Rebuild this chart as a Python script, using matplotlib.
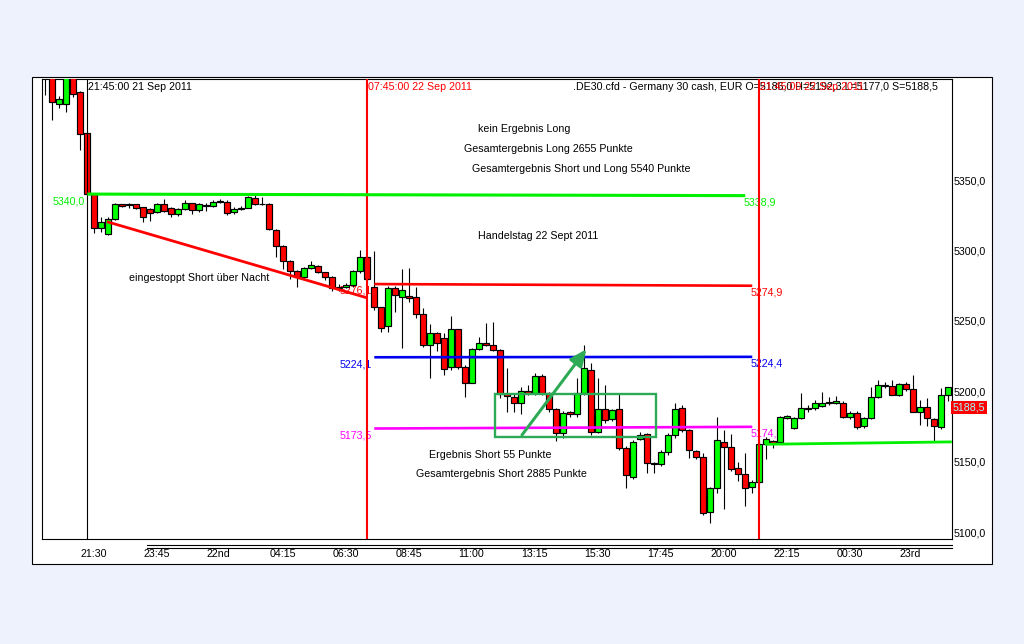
import matplotlib
matplotlib.use('Agg')
import matplotlib.pyplot as plt
from matplotlib.patches import Rectangle, FancyArrowPatch
from matplotlib.lines import Line2D
import matplotlib.transforms as mtransforms
import numpy as np

plt.rcParams['font.family'] = ['Liberation Sans', 'DejaVu Sans']
FS = 7.7

# ---------------- data (15-minute candles, index 0 = 20:15 21 Sep 2011) ----------------
opens = [5435, 5430, 5403.7, 5403.7, 5424, 5412.2, 5383.1, 5339.8, 5315.7, 5311.4,
         5322.1, 5332.7, 5332.5, 5332.7, 5330.6, 5329.4, 5327.0, 5332.7, 5329.9, 5325.6,
         5329.2, 5333.4, 5328.5, 5332.2, 5331.5, 5334.6, 5334.1, 5327.5, 5329.4, 5330.3,
         5337.0, 5332.9, 5332.9, 5314.5, 5303.1, 5292.5, 5285.4, 5280.9, 5287.3, 5288.9,
         5284.4, 5280.9, 5273.5, 5274.2, 5275.4, 5285.4, 5295.6, 5274.2, 5259.5, 5246.3,
         5273.5, 5267.1, 5267.8, 5266.6, 5254.6, 5232.8, 5241.1, 5238.0, 5217.0, 5243.9,
         5216.9, 5206.0, 5229.7, 5234.5, 5232.8, 5229.0, 5198.0, 5196.1, 5191.8, 5200.2,
         5198.6, 5211.0, 5198.5, 5187.3, 5170.1, 5185.0, 5183.8, 5198.5, 5215.0, 5171.2,
         5187.3, 5180.2, 5187.3, 5159.9, 5139.3, 5166.0, 5169.4, 5149.2, 5148.3, 5156.6,
         5168.9, 5187.8, 5172.2, 5157.5, 5153.5, 5114.4, 5131.0, 5163.7, 5160.6, 5145.2,
         5141.0, 5131.7, 5135.3, 5162.3, 5164.3, 5163.7, 5180.7, 5173.6, 5180.7, 5187.5,
         5187.8, 5189.5, 5192.6, 5191.4, 5191.9, 5181.4, 5184.7, 5175.5, 5180.7, 5195.6,
         5203.7, 5203.7, 5197.3, 5204.9, 5201.3, 5185.5, 5189.0, 5180.0, 5174.3, 5197.3]
highs = [5440, 5432, 5410, 5428, 5426, 5413, 5384, 5340, 5324, 5324,
         5333.5, 5333.3, 5333.5, 5333.3, 5331, 5330, 5333.5, 5336.5, 5330.5, 5330,
         5335.5, 5334, 5333.5, 5333.5, 5335.8, 5336.5, 5336, 5331, 5331.5, 5338.5,
         5339.5, 5338, 5333.5, 5315, 5304, 5293, 5286, 5288, 5292.5, 5289.5,
         5285, 5281.5, 5276, 5277, 5286, 5300.3, 5296, 5299.6, 5260, 5275,
         5275, 5286.8, 5287.2, 5274.2, 5258.8, 5247.5, 5242, 5241, 5253.4, 5244.5,
         5218.6, 5231, 5238.7, 5248.6, 5248.9, 5230, 5216.2, 5198, 5203, 5204.4,
         5212.7, 5212, 5199.5, 5188, 5186, 5186, 5209.1, 5232.8, 5219.8, 5209.1,
         5204.4, 5187.5, 5198.5, 5161, 5165, 5171.2, 5170.5, 5150, 5158, 5170,
         5191.4, 5190.2, 5173, 5158.5, 5156, 5132, 5181.9, 5172.4, 5169.4, 5150.0,
         5155.9, 5137, 5165, 5167.5, 5165, 5182.4, 5183, 5182, 5198.5, 5190,
         5193.4, 5199.7, 5195.6, 5196.6, 5193, 5186, 5186, 5182, 5203.2, 5208.0,
         5206.7, 5208, 5206, 5206.7, 5211.5, 5194, 5195, 5181, 5202, 5203.3]
lows = [5410.3, 5392.6, 5400.9, 5398.5, 5409, 5371.3, 5339.5, 5312.6, 5313.4, 5311,
        5321.5, 5331, 5330.3, 5329.5, 5320, 5321, 5326.5, 5327.5, 5323.5, 5324.5,
        5328.8, 5326, 5327, 5328, 5331, 5334, 5325, 5326, 5328.5, 5330,
        5332, 5332, 5314.5, 5295.6, 5287, 5280, 5273.8, 5280, 5286.5, 5284,
        5279, 5271, 5271, 5273, 5274, 5283.7, 5277, 5257.6, 5242, 5242,
        5256.5, 5230.9, 5263.6, 5252, 5231.6, 5209.1, 5228.5, 5211.5, 5215, 5215.7,
        5196.1, 5205.6, 5229, 5232, 5228.5, 5195, 5185.4, 5185.4, 5183.6, 5197,
        5197, 5197, 5185, 5164.6, 5166.5, 5182, 5182, 5197, 5168.9, 5170,
        5177.2, 5179, 5158, 5131.0, 5138, 5165, 5141.7, 5141.7, 5147, 5155,
        5167, 5171, 5152.8, 5152, 5112, 5106.6, 5128, 5116, 5143, 5136,
        5118.5, 5127.5, 5134, 5151.6, 5159.9, 5163, 5180, 5173, 5180, 5185,
        5187, 5189, 5190, 5191, 5181, 5180, 5172.9, 5174, 5180, 5195,
        5202, 5197, 5196.5, 5200, 5185, 5176, 5175, 5164.9, 5173, 5193]
closes = [5424, 5405.1, 5407.3, 5424.5, 5411.1, 5382.6, 5339.8, 5315.7, 5319.9, 5322.1,
          5332.7, 5331.5, 5332.7, 5329.9, 5323.5, 5326.3, 5332.7, 5328.2, 5325.6, 5329.2,
          5333.4, 5328.5, 5332.7, 5331.5, 5334.1, 5335.3, 5326.3, 5329.4, 5330.3, 5337.7,
          5332.9, 5332.7, 5315.2, 5303.1, 5292.5, 5285.4, 5280.9, 5287.3, 5289.4, 5284.9,
          5280.9, 5273.5, 5274.0, 5275.4, 5285.4, 5295.5, 5279.5, 5259.5, 5244.6, 5273.5,
          5268.3, 5271.8, 5266.4, 5254.6, 5232.8, 5241.5, 5234.0, 5215.7, 5243.9, 5217.4,
          5206.0, 5229.7, 5234.5, 5232.8, 5229.0, 5198.0, 5196.5, 5191.4, 5200.4, 5198.6,
          5211.0, 5198.5, 5187.3, 5170.1, 5184.3, 5183.8, 5198.5, 5216.2, 5170.8, 5187.3,
          5179.5, 5186.4, 5159.4, 5140.5, 5164.1, 5168.9, 5149.2, 5148.3, 5157.0, 5168.9,
          5187.3, 5172.2, 5158.2, 5153.5, 5113.2, 5131.0, 5165.3, 5160.6, 5144.5, 5141.0,
          5131.0, 5135.3, 5162.3, 5165.8, 5163.0, 5181.4, 5182.4, 5180.7, 5187.8, 5188.2,
          5191.4, 5191.4, 5191.4, 5193.3, 5181.4, 5184.7, 5174.3, 5180.7, 5195.6, 5204.4,
          5204.4, 5197.3, 5204.9, 5201.3, 5185.5, 5189.0, 5180.7, 5175.3, 5197.3, 5202.7]

tick_bars = [5, 14, 23, 32, 41, 50, 59, 68, 77, 86, 95, 104, 113, 122]
tick_labels = ['21:30', '23:45', '22nd', '04:15', '06:30', '08:45', '11:00',
               '13:15', '15:30', '17:45', '20:00', '22:15', '00:30', '23rd']
price_ticks = [5100, 5150, 5200, 5250, 5300, 5350]

# vertical time markers (bar index) and their labels
vline_bars = [6, 46, 102]
vline_labels = ['21:45:00 21 Sep 2011', '07:45:00 22 Sep 2011', '21:45:00 22 Sep 2011']
vline_colors = ['black', 'red', 'red']

# horizontal level lines: (start bar, start price, end bar, end price)
green_level = (6, 5340.0, 100, 5338.9)
red_level = (47, 5276.1, 101, 5274.9)
blue_level = (47, 5224.1, 101, 5224.4)
magenta_level = (47, 5173.5, 101, 5174.7)
stop_line = (8.8, 5320.4, 45.9, 5266.4)
support_line = (102.8, 5162.3, 129.5, 5164.0)
box = (64.3, 5167.7, 87.2, 5197.8)
arrow = (68.1, 5168.9, 77.3, 5229.8)
last_price = 5188.5

header = '.DE30.cfd - Germany 30 cash, EUR O=5186,0 H=5192,3 L=5177,0 S=5188,5'

# ---------------- figure ----------------
W, H = 1024, 644
fig = plt.figure(figsize=(W / 100, H / 100), dpi=100)
fig.patch.set_facecolor('#EEF2FD')

def fx(px):
    return px / W

def fy(py):
    return 1 - py / H

fig.patches.append(Rectangle((fx(31.7), fy(564)), fx(991.7) - fx(31.7), fy(77.3) - fy(564),
                             transform=fig.transFigure, facecolor='white',
                             edgecolor='black', lw=0.8, zorder=-5))

ax = fig.add_axes([fx(41.7), fy(539.3), fx(951.7) - fx(41.7), fy(79.3) - fy(539.3)])
ax.set_zorder(1)
ax.set_facecolor('white')
for s in ax.spines.values():
    s.set_color('black')
    s.set_linewidth(0.8)

ax.set_xlim(-0.514, 129.49)
ax.set_ylim(5094.82, 5421.52)

idx = np.arange(len(opens))
O = np.array(opens); Hh = np.array(highs); L = np.array(lows); C = np.array(closes)
cols = np.where(C >= O, '#00FF00', '#FF0000')

ax.vlines(idx, L, Hh, colors='black', lw=0.8, zorder=2)
ax.bar(idx, C - O, bottom=O, width=0.84, color=cols, edgecolor='black',
       linewidth=0.85, zorder=3)

# vertical lines + labels
for b, lab, c in zip(vline_bars, vline_labels, vline_colors):
    ax.axvline(b, color=c, lw=0.8 if c == 'black' else 1.5, zorder=5)
ytop = 5416.0
for b, lab, c in zip(vline_bars, vline_labels, vline_colors):
    ax.text(b + 0.05, ytop, lab, color=c, fontsize=FS, ha='left', va='center', zorder=1)
ax.text(127.5, ytop, header, color='black', fontsize=FS, ha='right', va='center', zorder=0.9)

def level(spec, color, lw, left_label=None, right_label=None, dy=-5.0):
    x0, p0, x1, p1 = spec
    ax.plot([x0, x1], [p0, p1], color=color, lw=lw, solid_capstyle='butt', zorder=6)
    if left_label:
        ax.annotate(left_label, xy=(x0, p0), xytext=(-1.5, dy), textcoords='offset points',
                    ha='right', va='center', color=color, fontsize=FS, zorder=1)
    if right_label:
        ax.annotate(right_label, xy=(x1, p1), xytext=(-1.0, dy), textcoords='offset points',
                    ha='left', va='center', color=color, fontsize=FS, zorder=1)

def fmt(v):
    return f'{v:.1f}'.replace('.', ',')

level(green_level, '#00F000', 2.2, fmt(green_level[1]), fmt(green_level[3]))
level(red_level, '#FF0000', 1.9, fmt(red_level[1]), fmt(red_level[3]))
level(blue_level, '#0000F0', 1.9, fmt(blue_level[1]), fmt(blue_level[3]))
level(magenta_level, '#FF00FF', 1.9, fmt(magenta_level[1]), fmt(magenta_level[3]))

ax.plot([stop_line[0], stop_line[2]], [stop_line[1], stop_line[3]], color='#FF0000',
        lw=2.0, solid_capstyle='butt', zorder=6)
ax.plot([support_line[0], support_line[2]], [support_line[1], support_line[3]],
        color='#00F000', lw=2.0, solid_capstyle='butt', zorder=6)

bx0, bp0, bx1, bp1 = box
ax.add_patch(Rectangle((bx0, bp0), bx1 - bx0, bp1 - bp0, fill=False,
                       edgecolor='#2DAA55', lw=1.7, zorder=7))
ax.add_patch(FancyArrowPatch((arrow[0], arrow[1]), (arrow[2], arrow[3]),
                             arrowstyle='-|>,head_length=10,head_width=4.5',
                             mutation_scale=1, color='#2DAA55', lw=2.2,
                             shrinkA=0, shrinkB=0, zorder=7))

# annotation texts
notes = [
    (61.86, 5386.0, 'kein Ergebnis Long'),
    (59.86, 5371.8, 'Gesamtergebnis Long 2655 Punkte'),
    (60.91, 5357.6, 'Gesamtergebnis Short und Long 5540 Punkte'),
    (61.86, 5310.2, 'Handelstag 22 Sept 2011'),
    (11.96, 5280.2, 'eingestoppt Short über Nacht'),
    (54.86, 5154.7, 'Ergebnis Short 55 Punkte'),
    (52.91, 5141.0, 'Gesamtergebnis Short 2885 Punkte'),
]
for x, y, t in notes:
    ax.text(x, y, t, fontsize=FS, color='black', ha='left', va='center', zorder=1)

# axes ticks
ax.yaxis.tick_right()
ax.set_yticks(price_ticks)
ax.set_yticklabels([fmt(p) for p in price_ticks])
ax.tick_params(axis='y', length=0, pad=1.2, labelsize=FS, colors='black')
ax.set_xticks(tick_bars)
ax.set_xticklabels(tick_labels, ha='left')
ax.tick_params(axis='x', length=0, pad=7.0, labelsize=FS, colors='black')

# last price tag
trans = mtransforms.blended_transform_factory(ax.transAxes, ax.transData)
ax.text(1.0015, last_price, fmt(last_price), transform=trans, fontsize=FS,
        color='#9FFFFF', ha='left', va='center', clip_on=False, zorder=8,
        bbox=dict(boxstyle='square,pad=0.15', facecolor='#FF0000', edgecolor='none'))

# double separator lines under the chart
for yy in (545.0, 548.3):
    fig.add_artist(Line2D([fx(146.7), fx(951.7)], [fy(yy), fy(yy)],
                          transform=fig.transFigure, color='black', lw=0.8, zorder=2))

fig.savefig('out.png', dpi=100, facecolor=fig.get_facecolor())
